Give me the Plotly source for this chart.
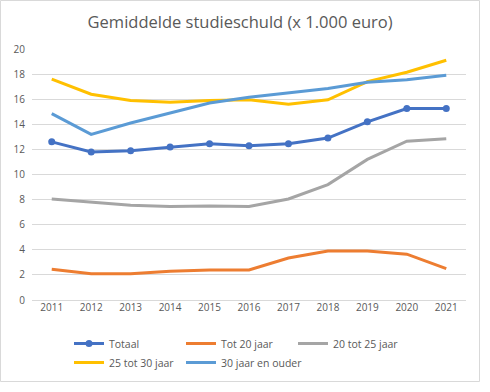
import plotly.graph_objects as go

years = ["2011", "2012", "2013", "2014", "2015", "2016", "2017", "2018", "2019", "2020", "2021"]
totaal = [12.6, 11.8, 11.9, 12.2, 12.45, 12.3, 12.45, 12.9, 14.2, 15.25, 15.25]
tot20 = [2.45, 2.1, 2.1, 2.3, 2.4, 2.4, 3.35, 3.9, 3.9, 3.65, 2.5]
t20_25 = [8.05, 7.8, 7.55, 7.45, 7.5, 7.45, 8.05, 9.2, 11.2, 12.65, 12.85]
t25_30 = [17.6, 16.4, 15.9, 15.75, 15.9, 15.95, 15.6, 15.95, 17.4, 18.15, 19.1]
t30plus = [14.85, 13.2, 14.1, 14.9, 15.7, 16.15, 16.5, 16.85, 17.35, 17.55, 17.9]

names = ["Totaal", "Tot 20 jaar", "20 tot 25 jaar", "25 tot 30 jaar", "30 jaar en ouder"]
colors = ["#4472C4", "#ED7D31", "#A5A5A5", "#FFC000", "#5B9BD5"]
series = [totaal, tot20, t20_25, t25_30, t30plus]

fig = go.Figure()
for i, (n, c, s) in enumerate(zip(names, colors, series)):
    fig.add_trace(go.Scatter(
        x=years, y=s, name=n,
        mode="lines+markers" if i == 0 else "lines",
        line=dict(color=c, width=3),
        marker=dict(size=7, color=c),
    ))

L, R, T, B = 32, 24, 49, 92
W, H = 490, 392
pw, ph = W - L - R, H - T - B

fig.update_layout(
    width=W, height=H,
    margin=dict(l=L, r=R, t=T, b=B, autoexpand=False),
    paper_bgcolor="white", plot_bgcolor="white",
    font=dict(family="Open Sans", color="#595959", size=10),
    title=dict(text="Gemiddelde studieschuld (x 1.000 euro)", x=0.49, xanchor="center",
               y=1 - 22 / H, yanchor="middle",
               font=dict(size=16.5, color="#595959", family="Open Sans")),
    xaxis=dict(type="category", range=[-0.5, 10.5], showgrid=False, showline=False,
               ticks="", tickfont=dict(size=10, color="#595959")),
    yaxis=dict(range=[0, 20], dtick=2, showgrid=True, gridcolor="#D9D9D9", gridwidth=1,
               zeroline=True, zerolinecolor="#D9D9D9", zerolinewidth=1, showline=False, ticks="",
               tickfont=dict(size=10, color="#595959"), ticklabelstandoff=6),
    legend=dict(orientation="h", xref="container", x=69 / W, xanchor="left",
                yref="container", y=1 - 329 / H, yanchor="top",
                entrywidth=67, entrywidthmode="pixels",
                font=dict(size=10.5, color="#595959"), tracegroupgap=0),
    showlegend=True,
)

fig.add_shape(type="rect", xref="paper", yref="paper",
              x0=(0.5 - L) / pw, x1=(479.5 - L) / pw,
              y0=1 + (T - 0.5) / ph, y1=1 - (381.5 - T) / ph,
              line=dict(color="#D9D9D9", width=1), fillcolor="rgba(0,0,0,0)", layer="below")

fig.write_html("out.html", config={"displayModeBar": False},
               post_script="document.body.style.margin='0';document.body.style.overflow='hidden';")
